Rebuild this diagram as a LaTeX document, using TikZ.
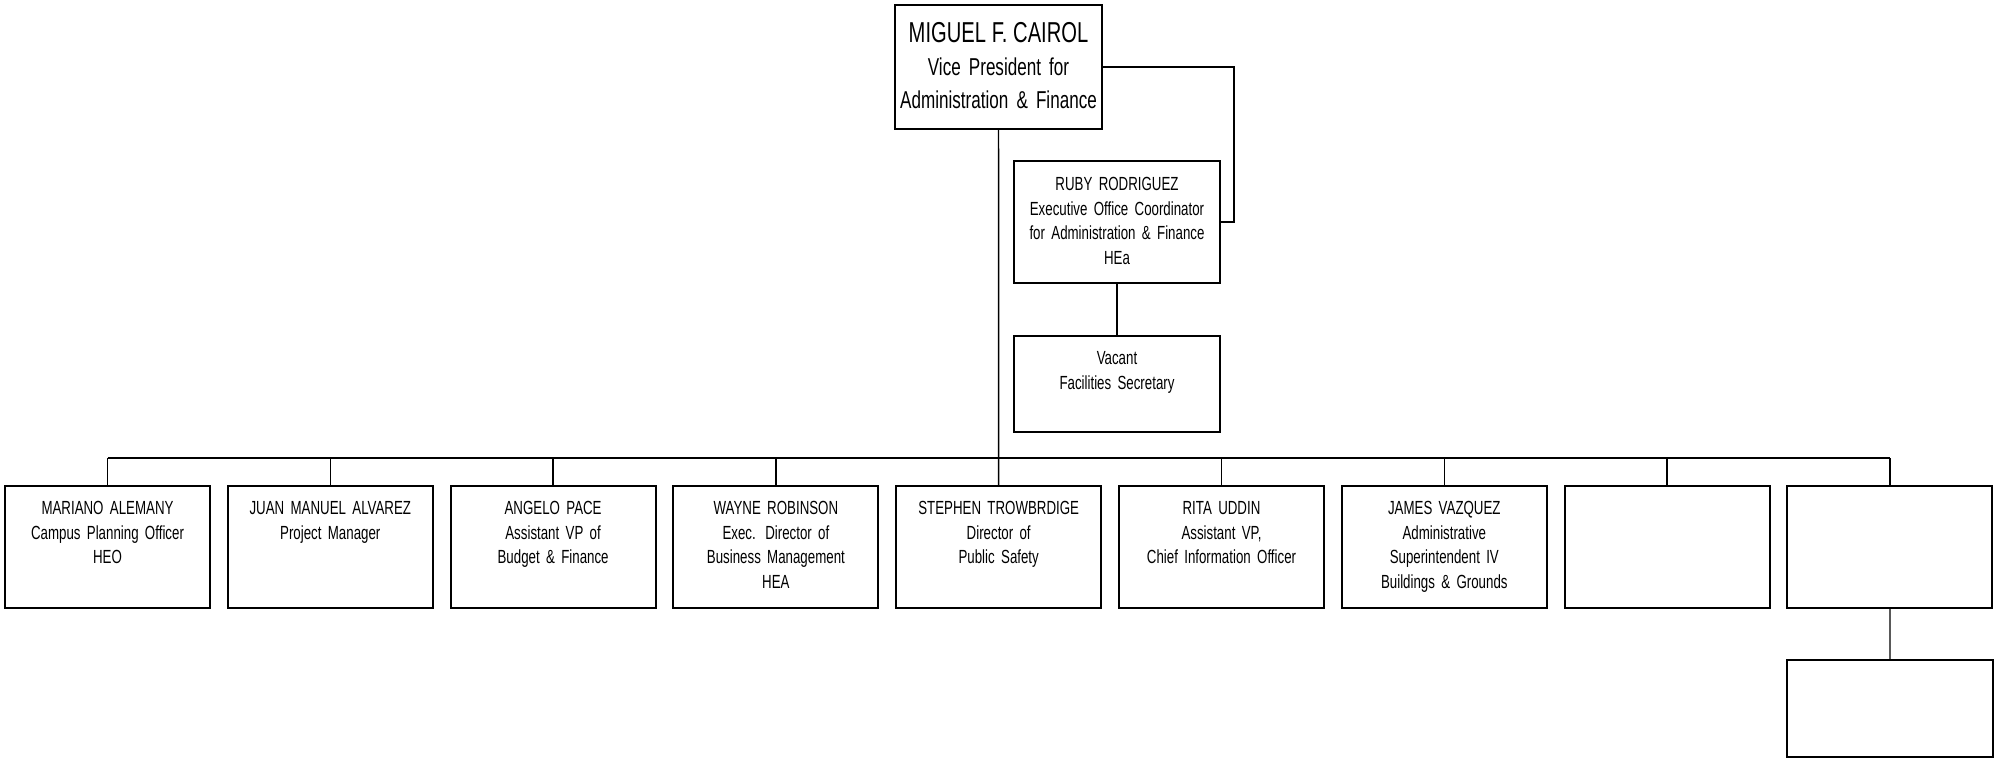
\documentclass[tikz,border=0pt]{standalone}
\usepackage{fontspec}
\setmainfont{Liberation Sans}[FakeStretch=0.7]
\usepackage{tikz}
\usetikzlibrary{positioning}
\newcommand{\boxfont}{\fontsize{9.5}{12.2}\selectfont\spaceskip=0.2em}
\newcommand{\vpfont}{\fontsize{12.2}{16.5}\selectfont\spaceskip=0.2em}
\tikzset{
  orgbox/.style={draw, line width=1pt, anchor=north, inner sep=0pt, text width=102.5pt,
    align=center, font=\boxfont, text height=14.5pt, text depth=46.5pt},
  secbox/.style={orgbox, text width=103pt, text depth=33.5pt},
  vpbox/.style={orgbox, text width=103.5pt, font=\vpfont,
    text height=18.75pt, text depth=43.25pt},
  link/.style={line width=0.7pt},
  busline/.style={line width=0.9pt}
}

\begin{document}
\begin{tikzpicture}[x=0.5pt,y=-0.5pt]
\useasboundingbox (0,0) rectangle (1995,758);
\node[vpbox] (vp) at (998.5,4) {{\fontsize{14.4}{16.5}\selectfont\spaceskip=0.2em MIGUEL F. CAIROL}\\Vice President for\\Administration \& Finance};
\node[orgbox, text width=103pt, text height=15pt, text depth=46pt] (ruby) at (1117,160) {RUBY RODRIGUEZ\\Executive Office Coordinator\\for Administration \& Finance\\HEa};
\node[secbox] (sec) at (1117,335) {Vacant\\Facilities Secretary};
\foreach \i/\txt in {1/{MARIANO ALEMANY\\Campus Planning Officer\\HEO},
    2/{JUAN MANUEL ALVAREZ\\Project Manager},
    3/{ANGELO PACE\\Assistant VP of\\Budget \& Finance},
    4/{WAYNE ROBINSON\\Exec. Director of\\Business Management\\HEA},
    5/{STEPHEN TROWBRDIGE\\Director of\\Public Safety},
    6/{RITA UDDIN\\Assistant VP,\\Chief Information Officer},
    7/{JAMES VAZQUEZ\\Administrative\\Superintendent IV\\Buildings \& Grounds},
    8/{},9/{}}
  \node[orgbox] (b\i) at ({107.5+(\i-1)*222.8},485) {\txt};
\node[orgbox, text width=103pt, text depth=34pt] (b10) at (1890,659) {};

\draw[link] (vp.east) -- ++(131,0) |- (ruby.east);
\draw[link] (ruby) -- (sec);
\draw[link] (vp) -- (b5);
\draw[busline] (b1.north) ++(0,-27) -- ++(1782.4,0);
\foreach \i in {1,...,9}
  \draw[link] (b\i.north) -- ++(0,-27);
\draw[link] (b9) -- (b10);
\end{tikzpicture}
\end{document}
